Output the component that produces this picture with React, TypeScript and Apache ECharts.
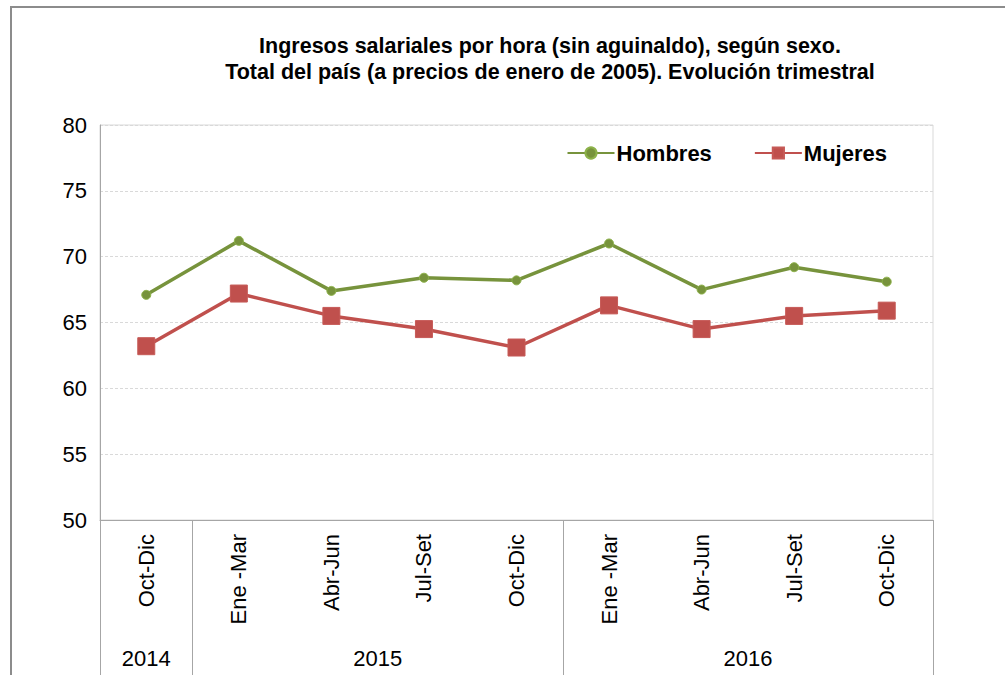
import React, { useEffect, useRef } from "react";
import * as echarts from "echarts";

const quarters = ["Oct-Dic", "Ene -Mar", "Abr-Jun", "Jul-Set", "Oct-Dic", "Ene -Mar", "Abr-Jun", "Jul-Set", "Oct-Dic"];
const hombres = [67.1, 71.2, 67.4, 68.4, 68.2, 71.0, 67.5, 69.2, 68.1];
const mujeres = [63.2, 67.2, 65.5, 64.5, 63.1, 66.3, 64.5, 65.5, 65.9];
const years = ["2014", "2015", "2016"];
const yearCenters = [0.5, 3, 7];
const yearBounds = [0, 1, 5, 9];
const yTicks = { min: 50, max: 80, interval: 5 };

const FONT = "'Liberation Sans', Arial, sans-serif";

export default function App() {
  const ref = useRef<HTMLDivElement>(null);
  useEffect(() => {
    if (!ref.current) return;
    const chart = echarts.init(ref.current, null, { renderer: "svg" });
    chart.setOption({
      animation: false,
      backgroundColor: "#ffffff",
      title: {
        text: "Ingresos salariales por hora (sin aguinaldo), según sexo.\nTotal del país (a precios de enero de 2005). Evolución trimestral",
        left: 545,
        textAlign: "center",
        top: 28,
        textStyle: { fontFamily: FONT, fontSize: 21.5, fontWeight: "bold", color: "#000", lineHeight: 26 },
      },
      legend: {
        right: 113,
        top: 137,
        itemWidth: 47,
        itemHeight: 14,
        itemGap: 42,
        textStyle: { fontFamily: FONT, fontSize: 22, fontWeight: "bold", color: "#000", padding: [0, 0, 0, -3] },
        data: ["Hombres", "Mujeres"],
      },
      grid: {
        left: 100,
        top: 125,
        right: 72,
        bottom: 155,
        show: true,
        borderColor: "#d9d9d9",
        borderWidth: 1,
        containLabel: false,
      },
      xAxis: [
        {
          type: "category",
          data: quarters,
          boundaryGap: true,
          axisLine: { show: true, lineStyle: { color: "#a6a6a6", width: 1 } },
          axisTick: { show: false },
          axisLabel: { rotate: 90, margin: 14, fontFamily: FONT, fontSize: 22, color: "#000" },
          splitLine: { show: false },
        },
        {
          type: "value",
          position: "bottom",
          min: 0,
          max: 9,
          axisLine: { show: false },
          splitLine: { show: false },
          axisTick: {
            show: true,
            customValues: yearBounds,
            length: 156,
            lineStyle: { color: "#a6a6a6", width: 1 },
          },
          axisLabel: {
            customValues: yearCenters,
            margin: 127,
            fontFamily: FONT,
            fontSize: 22,
            color: "#000",
            formatter: (v: number) => years[yearCenters.indexOf(v)] ?? "",
          },
        },
      ],
      yAxis: {
        type: "value",
        min: yTicks.min,
        max: yTicks.max,
        interval: yTicks.interval,
        axisLine: { show: true, lineStyle: { color: "#a6a6a6", width: 1 } },
        axisTick: { show: false },
        axisLabel: { margin: 13, fontFamily: FONT, fontSize: 22, color: "#000" },
        splitLine: { show: true, lineStyle: { color: "#d9d9d9", type: [3, 2], width: 1 } },
      },
      series: [
        {
          name: "Hombres",
          type: "line",
          xAxisIndex: 0,
          data: hombres,
          symbol: "circle",
          symbolSize: 9,
          lineStyle: { color: "#77933C", width: 3.5 },
          itemStyle: { color: "#77933C", borderColor: "#8db24a", borderWidth: 1 },
        },
        {
          name: "Mujeres",
          type: "line",
          xAxisIndex: 0,
          data: mujeres,
          symbol: "rect",
          symbolSize: 17,
          lineStyle: { color: "#C0504D", width: 3.5 },
          itemStyle: { color: "#C0504D", borderColor: "#c65a57", borderWidth: 1 },
        },
      ],
      graphic: [
        {
          type: "polyline",
          shape: { points: [[11, 675], [11, 7], [1005, 7]] },
          style: { stroke: "#8c8c8c", lineWidth: 2, fill: "none" },
          silent: true,
        },
      ],
    });
    return () => chart.dispose();
  }, []);
  return (
    <div
      ref={ref}
      style={{ position: "fixed", left: 0, top: 0, width: 1005, height: 675 }}
    />
  );
}
